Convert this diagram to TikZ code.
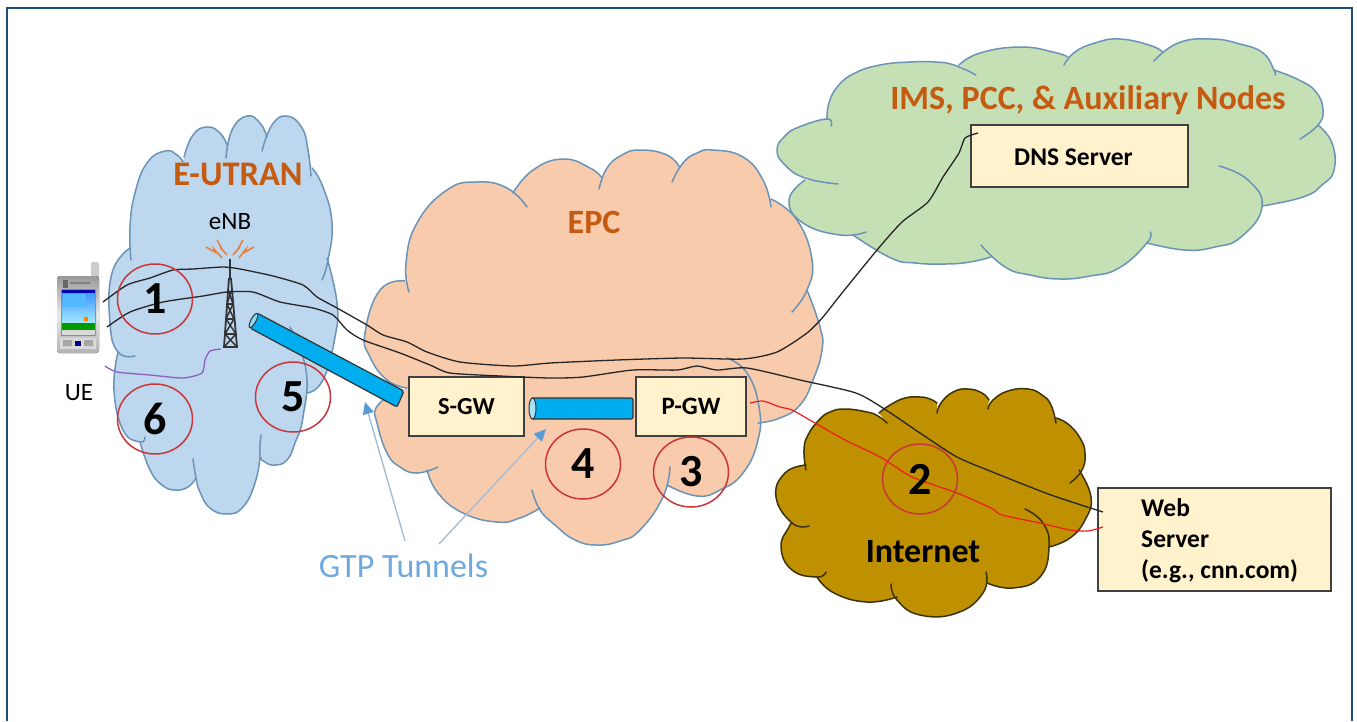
\documentclass[tikz,border=0pt]{standalone}
\usepackage{fontspec}
\setmainfont{Carlito}
\usetikzlibrary{arrows.meta,shapes.geometric}
\definecolor{framec}{HTML}{1F4E79}
\definecolor{ublue}{HTML}{BDD7EE}
\definecolor{peach}{HTML}{F8CBAD}
\definecolor{lgreen}{HTML}{C5E0B4}
\definecolor{gold}{HTML}{BF9000}
\definecolor{cream}{HTML}{FFF2CC}
\definecolor{edgeb}{HTML}{6A93B8}
\definecolor{edged}{HTML}{3B3208}
\definecolor{otxt}{HTML}{C55A11}
\definecolor{redc}{HTML}{C8373A}
\definecolor{purp}{HTML}{8E5FBF}
\definecolor{redl}{HTML}{EE1C1C}
\definecolor{tunnel}{HTML}{00AEEF}
\definecolor{gtptxt}{HTML}{6FA8DC}
\definecolor{gtpl}{HTML}{A3BDD6}
\definecolor{gtph}{HTML}{5B9BD5}
\definecolor{spark}{HTML}{ED7D31}
\newcommand{\fs}[1]{\fontsize{#1}{#1}\selectfont}
% fill colour, edge colour, first point, list of lobes
\newcommand{\cloudshape}[4]{%
  \gdef\accpath{}%
  \foreach \lobe in {#4}{%
    \xdef\accpath{\accpath -- plot[smooth,tension=0.8] coordinates {\lobe}}%
    \edef\tmpcmd{\noexpand\fill[#1] plot[smooth,tension=0.8] coordinates {\lobe} -- cycle;}\tmpcmd
  }%
  \edef\tmpcmd{\noexpand\fill[#1] #3 \accpath -- cycle;}\tmpcmd
  \foreach \lobe in {#4}{%
    \edef\tmpcmd{\noexpand\draw[#2,line width=1.5pt,line cap=round] plot[smooth,tension=0.8] coordinates {\lobe};}\tmpcmd
  }%
}
\tikzset{
  boxn/.style={draw=black!75,line width=1.3pt,fill=cream,inner sep=0pt},
  numc/.style={ellipse,draw=redc,line width=1.5pt,minimum width=75pt,minimum height=70pt,inner sep=0pt,font=\bfseries\fs{46},text=black},
  gtparrow/.style={draw=gtpl,line width=1.4pt,-{Triangle[length=12pt,width=11pt,color=gtph]}},
  wire/.style={draw=black!85,line width=1.3pt},
  sparkl/.style={draw=spark,line width=1.5pt},
  tunnelb/.style={draw=black!80,line width=1.2pt,fill=tunnel,rounded corners=2pt},
}
\begin{document}
\begin{tikzpicture}[x=1pt,y=-1pt]
\useasboundingbox (0,0) rectangle (1357,721);
% frame
\coordinate (fa) at (7,721); \coordinate (fb) at (7,8); \coordinate (fc) at (1352,8); \coordinate (fd) at (1352,721);
\draw[framec,line width=2.6pt] (fa) -- (fb) -- (fc) -- (fd);
% green cloud
\cloudshape{lgreen}{edgeb}{(866,232)}{
 {(866,232) (840,235) (803,223) (789,200) (805,180)},
 {(838,184) (805,178) (785,165) (777,150) (785,136) (799,127) (827,119) (831,126)},
 {(827,119) (829,103) (838,86) (855,73) (880,65) (910,62) (935,62) (954,65) (976,75)},
 {(959,65) (980,53) (1020,47) (1053,52) (1068,57)},
 {(1064,65) (1075,52) (1095,43) (1119,39) (1149,45) (1163,52)},
 {(1154,61) (1178,43) (1211,39) (1240,44) (1263,53) (1274,70) (1275,75)},
 {(1274,70) (1299,80) (1316,92) (1323,110) (1318,125) (1300,139)},
 {(1318,125) (1332,143) (1334,170) (1322,185) (1303,197) (1262,206)},
 {(1219,166) (1248,180) (1262,207) (1241,237) (1215,247) (1185,250) (1147,243)},
 {(1150,232) (1147,243) (1119,268) (1090,276) (1060,279) (1030,275) (1005,267) (981,245)},
 {(991,257) (970,262) (946,264) (915,263) (891,258) (853,235)}}
% E-UTRAN cloud
\cloudshape{ublue}{edgeb}{(135,356)}{
 {(135,356) (118,352) (110,323) (112,273) (130,248)},
 {(131,260) (130,227) (135,193) (147,163) (165,151) (177,155) (183,162)},
 {(184,157) (193,135) (207,127) (220,133) (227,145)},
 {(226,158) (232,130) (247,116) (260,123) (267,137)},
 {(262,151) (272,125) (287,116) (302,128) (308,150) (311,176)},
 {(312,168) (323,187) (332,223) (328,260) (322,280)},
 {(327,258) (337,303) (335,337) (323,380) (307,393)},
 {(290,327) (306,370) (303,417) (295,443) (287,460) (275,465) (265,462) (260,455) (261,435)},
 {(260,457) (255,483) (243,507) (227,514) (210,508) (200,492) (196,478) (193,459)},
 {(196,478) (188,487) (175,490) (162,485) (150,470) (140,442)},
 {(145,437) (140,442) (123,430) (114,390) (118,352)}}
% EPC cloud
\cloudshape{peach}{edgeb}{(670,467)}{
 {(670,467) (663,497) (640,530) (620,541) (597,545) (575,540) (555,525) (540,510) (532,490)},
 {(540,508) (520,518) (497,522) (463,513) (438,493) (427,470)},
 {(438,467) (417,473) (400,467) (387,453) (377,423) (376,408) (390,395)},
 {(407,388) (387,380) (370,357) (365,333) (380,290) (405,281)},
 {(409,292) (406,263) (417,223) (447,190) (477,182) (507,188) (527,207)},
 {(513,193) (533,170) (563,159) (590,168) (602,178)},
 {(599,189) (607,168) (622,155) (640,150) (667,155) (680,168)},
 {(672,182) (683,163) (697,153) (713,150) (743,157) (763,180) (771,207)},
 {(771,199) (797,220) (812,260) (807,290) (792,312)},
 {(807,290) (820,327) (822,350) (813,380) (800,405) (780,418) (758,423)},
 {(727,358) (747,373) (759,407) (758,440) (743,473) (720,490) (697,496) (667,485)}}
% Internet cloud
\cloudshape{gold}{edged}{(986,572)}{
 {(986,572) (983,593) (957,613) (920,615) (897,600) (891,584)},
 {(897,597) (867,602) (834,593) (817,577)},
 {(826,572) (817,577) (792,570) (781,547) (789,527) (792,523)},
 {(809,526) (792,523) (776,497) (785,473) (806,465)},
 {(806,470) (804,450) (808,435) (819,420) (830,412) (845,409) (867,412) (878,416) (887,423)},
 {(879,413) (890,405) (905,398) (920,397) (930,399) (937,403)},
 {(937,413) (941,403) (953,392) (968,389) (982,393) (989,400)},
 {(988,409) (993,400) (1008,391) (1028,389) (1042,395) (1051,405) (1056,423)},
 {(1056,418) (1068,424) (1080,438) (1085,453) (1082,470) (1070,483)},
 {(1079,470) (1091,497) (1085,520) (1070,538) (1049,547)},
 {(1025,509) (1043,523) (1049,547) (1040,577) (1013,588) (987,583)}}
% cloud titles
\node[font=\bfseries\fs{34.5},text=otxt] (eutran) at (238,174) {E-UTRAN};
\node[font=\bfseries\fs{34},text=otxt] (epc) at (594,222) {EPC};
\node[font=\bfseries\fs{34},text=otxt] (ims) at (1088,100) {IMS, PCC, \& Auxiliary Nodes};
\node[font=\bfseries\fs{34},text=black] (internet) at (923,552) {Internet};
\node[font=\fs{25},text=black] (enb) at (230,222) {eNB};
\node[font=\fs{25},text=black] (uelabel) at (79,393) {UE};
% boxes
\node[boxn,minimum width=115pt,minimum height=59pt,font=\bfseries\fs{24.5}] (sgw) at (466.5,406.5) {S-GW};
\node[boxn,minimum width=110pt,minimum height=59pt,font=\bfseries\fs{25}] (pgw) at (691,406.5) {P-GW};
\node[boxn,minimum width=217pt,minimum height=62pt] (dns) at (1079.5,156) {};
\node[anchor=west,inner sep=0pt,font=\bfseries\fs{25.5}] (dnst) at (1014,157) {DNS Server};
\node[boxn,minimum width=233pt,minimum height=103pt] (web) at (1214.5,539.5) {};
\node[anchor=west,inner sep=0pt,align=left,font=\fontsize{25.5}{31}\bfseries\selectfont] (webt) at (1141,541) {Web\\Server\\(e.g., cnn.com)};
% phone
\coordinate (ue) at (78,315);
\begin{scope}[shift={(ue)}]
  \fill[rounded corners=2pt,black!20] (13,-53) rectangle (21,-36);
  \fill[rounded corners=3pt,top color=black!40,bottom color=black!30,middle color=black!8] (-21,-39) rectangle (21,38);
  \fill[black!60] (-15,-35) rectangle (-10,-27);
  \fill[black!50] (-8,-33) rectangle (12,-31);
  \fill[rounded corners=1pt,black!45] (-17,-26) rectangle (18,21);
  \fill[top color=blue!55!cyan!80!white,bottom color=cyan!25] (-16,-25) rectangle (17,16);
  \fill[blue!70!black] (-16,-25) rectangle (17,-22);
  \fill[white!55!blue!60!cyan] (-15,-21) rectangle (8,-8);
  \fill[green!60!black] (-16,8) rectangle (17,15);
  \fill[white!85!black] (-16,15) rectangle (17,20);
  \fill[orange] (6,2) rectangle (10,6);
  \fill[black!15] (-18,23) rectangle (18,34);
  \fill[black!35] (-15,25) rectangle (-6,31) (6,25) rectangle (15,31);
  \fill[blue!60!black] (-3,26) rectangle (3,31);
\end{scope}
% tower
\coordinate (tow) at (230,259);
\begin{scope}[shift={(tow)},draw=black!80,line width=1.5pt]
  \draw[line width=1.8pt] (0,0) -- (0,20);
  \draw[line width=1.8pt] (-1,19) -- (-6,88) -- (7,88) -- (1,19);
  \draw (-3,45) -- (3,45) (-4,60) -- (4,60) (-5,75) -- (6,75);
  \draw (-3,45) -- (4,60) (3,45) -- (-4,60) (-4,60) -- (6,75) (4,60) -- (-5,75) (-5,75) -- (7,88) (6,75) -- (-6,88);
  \draw (-2,30) -- (3,45) (2,30) -- (-3,45);
\end{scope}
% sparks
\coordinate (sa) at (222,258); \coordinate (sb) at (227,255); \coordinate (sc) at (233,255); \coordinate (sd) at (239,258);
\draw[sparkl] (206,247) -- (215,252) -- (214,249) -- (sa);
\draw[sparkl] (217,240) -- (222,249) -- (220,247) -- (sb);
\draw[sparkl] (243,240) -- (238,249) -- (240,247) -- (sc);
\draw[sparkl] (254,247) -- (245,252) -- (246,249) -- (sd);
% tunnels
\draw[tunnelb] (250,328) -- (257,313) -- (404,391) -- (397,407) -- cycle;
\draw[draw=black!80,line width=1pt,fill=cyan!45,rotate around={-28:(253.5,320.5)}] (253.5,320.5) ellipse (2.5 and 8);
\draw[tunnelb] (531,398) -- (633,398) -- (633,419) -- (531,419) -- cycle;
\draw[draw=black!80,line width=1pt,fill=cyan!35] (532.5,408.5) ellipse (3.5 and 10.5);
% connectors
\coordinate (ueA) at (103,302);
\coordinate (ueB) at (107,327);
\coordinate (ueC) at (105,366);
\coordinate (towB) at (221,349);
\coordinate (dnsE) at (978,133);
\coordinate (webA) at (1103,512);
\coordinate (webB) at (1103,527);
\coordinate (pgwR) at (750,403);
\draw[wire] plot[smooth,tension=0.4] coordinates {(ueA) (127,285) (150,278) (173,270) (193,269) (223,267) (240,269) (273,276) (303,285) (317,297) (337,308) (367,325) (383,335) (407,342) (427,352) (460,362) (513,366) (550,363) (617,360) (683,358) (743,359) (777,352) (807,333) (823,317) (838,298) (877,250) (902,222) (928,202) (943,177) (959,153) (965,138) (dnsE)};
\draw[wire] plot[smooth,tension=0.4] coordinates {(ueB) (130,312) (163,302) (203,296) (227,292) (253,292) (280,302) (313,308) (333,315) (347,330) (363,340) (400,353) (430,365) (450,373) (500,376) (550,378) (583,377) (633,370) (677,370) (697,366) (717,370) (747,368) (800,380) (856,393) (886,410) (920,433) (957,457) (995,473) (1051,495) (webA)};
\draw[redl,line width=1.2pt] plot[smooth,tension=0.4] coordinates {(pgwR) (763,401) (780,407) (792,410) (815,423) (845,440) (882,458) (912,477) (957,493) (991,508) (1002,515) (1040,523) (1070,530) (1088,531) (webB)};
\draw[purp,line width=1.3pt] plot[smooth,tension=0.4] coordinates {(ueC) (117,372) (150,375) (183,378) (202,373) (205,360) (210,351) (towB)};
% GTP label and arrows
\node[font=\fs{34},text=gtptxt] (gtp) at (403.5,566) {GTP Tunnels};
\coordinate (tipA) at (365,402);
\coordinate (tipB) at (546,429);
\coordinate (tailA) at (405,541);
\coordinate (tailB) at (439,544);
\draw[gtparrow] (tailA) -- (tipA);
\draw[gtparrow] (tailB) -- (tipB);
% numbered circles
\node[numc] (n1) at (155,299) {1};
\node[numc] (n6) at (155,419) {6};
\node[numc] (n5) at (293,397) {5};
\node[numc] (n4) at (583,464) {4};
\node[numc] (n3) at (691,472) {3};
\node[numc] (n2) at (920,479) {2};
\end{tikzpicture}
\end{document}
